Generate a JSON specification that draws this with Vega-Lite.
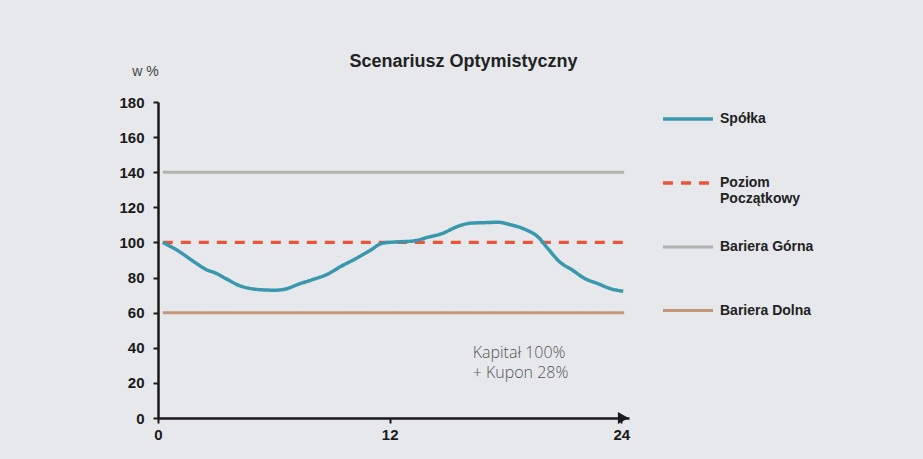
{
  "$schema": "https://vega.github.io/schema/vega-lite/v6.json",
  "width": 471,
  "height": 316,
  "autosize": {"type": "none"},
  "padding": {"left": 158, "top": 102, "right": 294, "bottom": 41},
  "background": "#e6e8ec",
  "config": {
    "view": {"stroke": null},
    "font": "Liberation Sans"
  },
  "title": {
    "text": "Scenariusz  Optymistyczny",
    "font": "Liberation Sans",
    "fontSize": 18,
    "fontWeight": "bold",
    "color": "#222222",
    "anchor": "middle",
    "dx": 70,
    "dy": 16,
    "baseline": "alphabetic",
    "offset": -5
  },
  "datasets": {
    "lines": [
      {"series": "Bariera Górna", "t": 0.25, "v": 140},
      {"series": "Bariera Górna", "t": 24.15, "v": 140},
      {"series": "Bariera Dolna", "t": 0.25, "v": 60},
      {"series": "Bariera Dolna", "t": 24.15, "v": 60},
      {"series": "Poziom Początkowy", "t": 0.25, "v": 100},
      {"series": "Poziom Początkowy", "t": 24.15, "v": 100},
      {"series": "Spółka", "t": 0.25, "v": 100},
      {"series": "Spółka", "t": 1, "v": 95.5},
      {"series": "Spółka", "t": 2, "v": 88},
      {"series": "Spółka", "t": 2.5, "v": 84.5},
      {"series": "Spółka", "t": 3, "v": 82.5},
      {"series": "Spółka", "t": 3.5, "v": 79.5},
      {"series": "Spółka", "t": 4.2, "v": 75.5},
      {"series": "Spółka", "t": 5, "v": 73.4},
      {"series": "Spółka", "t": 6, "v": 72.8},
      {"series": "Spółka", "t": 6.5, "v": 73.2},
      {"series": "Spółka", "t": 7.3, "v": 76.3},
      {"series": "Spółka", "t": 8, "v": 78.8},
      {"series": "Spółka", "t": 8.8, "v": 82},
      {"series": "Spółka", "t": 9.5, "v": 86.5},
      {"series": "Spółka", "t": 10.2, "v": 90.5},
      {"series": "Spółka", "t": 11, "v": 95.5},
      {"series": "Spółka", "t": 11.6, "v": 99.5},
      {"series": "Spółka", "t": 12.2, "v": 100.2},
      {"series": "Spółka", "t": 13.2, "v": 100.8},
      {"series": "Spółka", "t": 14, "v": 103},
      {"series": "Spółka", "t": 14.7, "v": 105},
      {"series": "Spółka", "t": 15.5, "v": 109},
      {"series": "Spółka", "t": 16.2, "v": 111},
      {"series": "Spółka", "t": 17, "v": 111.3},
      {"series": "Spółka", "t": 17.6, "v": 111.5},
      {"series": "Spółka", "t": 18.3, "v": 110},
      {"series": "Spółka", "t": 19, "v": 107.5},
      {"series": "Spółka", "t": 19.7, "v": 103},
      {"series": "Spółka", "t": 20.2, "v": 96.5},
      {"series": "Spółka", "t": 20.8, "v": 89},
      {"series": "Spółka", "t": 21.5, "v": 84},
      {"series": "Spółka", "t": 22.1, "v": 79.5},
      {"series": "Spółka", "t": 22.8, "v": 76.5},
      {"series": "Spółka", "t": 23.4, "v": 73.8},
      {"series": "Spółka", "t": 24.1, "v": 72.2}
    ],
    "arrow": [{"t": 24.1, "v": 0}],
    "note": [{"t": 16.3, "v": 34.3, "label": "Kapitał 100%\n+ Kupon 28%"}]
  },
  "encoding": {
    "x": {
      "field": "t",
      "type": "quantitative",
      "scale": {"domain": [0, 24.4], "nice": false, "zero": false},
      "axis": {
        "values": [0, 12, 24],
        "title": null,
        "grid": false,
        "domainColor": "#1a1a1a",
        "domainWidth": 2.5,
        "tickColor": "#1a1a1a",
        "tickWidth": 2,
        "tickSize": 5,
        "labelFont": "Liberation Sans",
        "labelFontWeight": "bold",
        "labelFontSize": 15,
        "labelColor": "#1a1a1a",
        "labelPadding": 4,
        "labelFlush": false,
        "labelOverlap": false
      }
    },
    "y": {
      "field": "v",
      "type": "quantitative",
      "scale": {"domain": [0, 180], "nice": false},
      "axis": {
        "values": [0, 20, 40, 60, 80, 100, 120, 140, 160, 180],
        "tickCount": 10,
        "title": "w %",
        "titleAngle": 0,
        "titleX": -13,
        "titleY": -27,
        "titleAlign": "center",
        "titleBaseline": "alphabetic",
        "titleFont": "Liberation Sans",
        "titleFontWeight": "normal",
        "titleFontSize": 14,
        "titleColor": "#444444",
        "grid": false,
        "domainColor": "#1a1a1a",
        "domainWidth": 2.5,
        "tickColor": "#1a1a1a",
        "tickWidth": 2,
        "tickSize": 5,
        "labelFont": "Liberation Sans",
        "labelFontWeight": "bold",
        "labelFontSize": 15,
        "labelColor": "#1a1a1a",
        "labelPadding": 9,
        "labelOverlap": false
      }
    }
  },
  "layer": [
    {
      "data": {"name": "lines"},
      "mark": {"type": "line", "interpolate": "monotone", "clip": false},
      "encoding": {
        "color": {
          "field": "series",
          "type": "nominal",
          "scale": {
            "domain": ["Spółka", "Poziom Początkowy", "Bariera Górna", "Bariera Dolna"],
            "range": ["#3a98ae", "#e8553a", "#b0b3ad", "#c4977a"]
          },
          "legend": {
            "title": null,
            "orient": "none",
            "legendX": 503,
            "legendY": -10,
            "padding": 0,
            "symbolType": "stroke",
            "symbolSize": 2500,
            "symbolStrokeWidth": 3,
            "labelFont": "Liberation Sans",
            "labelFontWeight": "bold",
            "labelFontSize": 14,
            "labelColor": "#222222",
            "labelOffset": 5,
            "labelLimit": 300,
            "rowPadding": 14,
            "labelExpr": "datum.label == 'Poziom Początkowy' ? ['Poziom', 'Początkowy'] : [datum.label, ' ']"
          }
        },
        "strokeDash": {
          "field": "series",
          "type": "nominal",
          "scale": {
            "domain": ["Spółka", "Poziom Początkowy", "Bariera Górna", "Bariera Dolna"],
            "range": [[1, 0], [10, 8], [1, 0], [1, 0]]
          }
        },
        "strokeWidth": {
          "field": "series",
          "type": "nominal",
          "scale": {
            "domain": ["Spółka", "Poziom Początkowy", "Bariera Górna", "Bariera Dolna"],
            "range": [3.5, 3, 2.5, 2.5]
          },
          "legend": null
        },
        "order": {"field": "t", "type": "quantitative"}
      }
    },
    {
      "data": {"name": "arrow"},
      "mark": {"type": "point", "shape": "triangle-right", "filled": true, "color": "#1a1a1a", "size": 150, "opacity": 1, "clip": false}
    },
    {
      "data": {"name": "note"},
      "mark": {"type": "text", "align": "left", "baseline": "alphabetic", "font": "Open Sans", "fontSize": 16, "fontWeight": 300, "color": "#555555", "lineBreak": "\n", "lineHeight": 20},
      "encoding": {
        "text": {"field": "label"}
      }
    }
  ]
}
